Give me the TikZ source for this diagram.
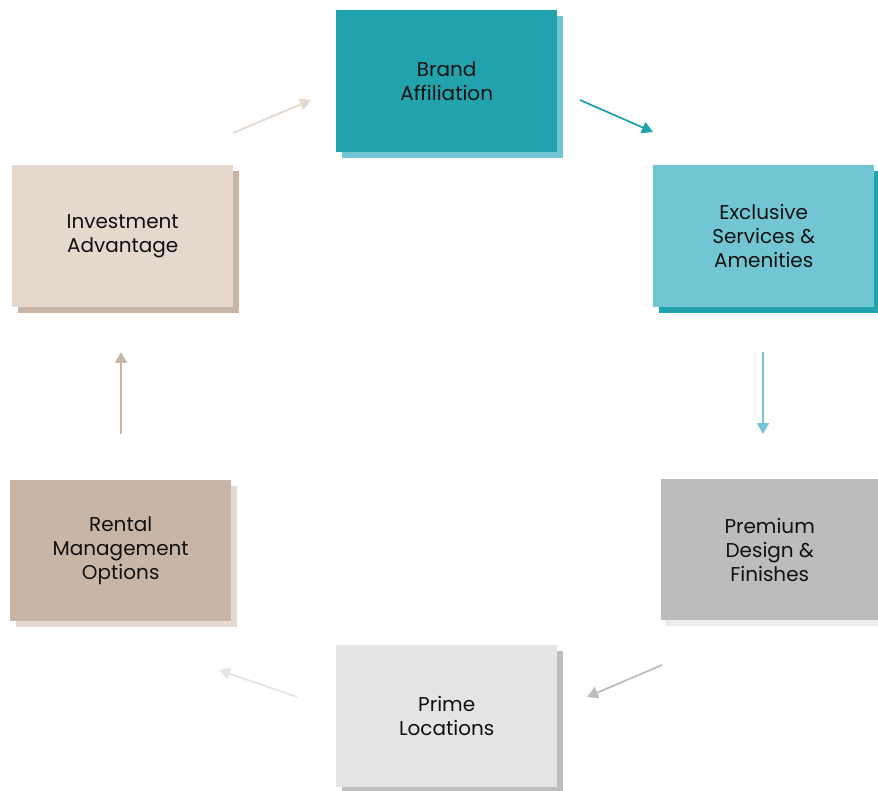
\documentclass[tikz,border=0pt]{standalone}
\usepackage{fontspec}
\setmainfont{Poppins}
\usetikzlibrary{arrows.meta}
\definecolor{tealD}{HTML}{22A2AC}
\definecolor{tealL}{HTML}{72C6D3}
\definecolor{greyM}{HTML}{BDBBBC}
\definecolor{greyL}{HTML}{E4E4E4}
\definecolor{greyS}{HTML}{BDBDBD}
\definecolor{greyX}{HTML}{EDEDED}
\definecolor{tanD}{HTML}{C8B5A6}
\definecolor{tanL}{HTML}{E5D8CD}
\definecolor{txt}{HTML}{111111}
\begin{document}
\begin{tikzpicture}[x=1pt,y=-1pt,
  card/.style={minimum width=221pt,minimum height=142pt,inner sep=0pt,
    align=center,text=txt,font=\fontsize{20}{24}\selectfont,anchor=north west},
  shadowbox/.style={minimum width=221pt,minimum height=142pt,inner sep=0pt,anchor=north west},
  flow/.style={line width=1.8pt,-{Triangle[length=11pt,width=12pt]}}]
\useasboundingbox (0,0) rectangle (878,791);
% shadows
\node[shadowbox,fill=tealL] (s1) at (342,16) {};
\node[shadowbox,fill=tealD] (s2) at (659,171) {};
\node[shadowbox,fill=greyX,minimum width=217pt,minimum height=141pt] (s3) at (665,485) {};
\node[shadowbox,fill=greyS] (s4) at (342,651) {};
\node[shadowbox,fill=tanL,minimum height=141pt] (s5) at (16,486) {};
\node[shadowbox,fill=tanD] (s6) at (18,171) {};
% cards
\node[card,fill=tealD] (brand) at (336,10) {Brand\\Affiliation};
\node[card,fill=tealL] (excl) at (653,165) {Exclusive\\Services \&\\Amenities};
\node[card,fill=greyM,minimum width=217pt,minimum height=141pt] (prem) at (661,479) {Premium\\Design \&\\Finishes};
\node[card,fill=greyL] (prime) at (336,645) {Prime\\Locations};
\node[card,fill=tanD,minimum height=141pt] (rent) at (10,480) {Rental\\Management\\Options};
\node[card,fill=tanL] (inv) at (12,165) {Investment\\Advantage};
% connector end points
\coordinate (a1s) at (580,100); \coordinate (a1e) at (653,132);
\coordinate (a2s) at (763,352); \coordinate (a2e) at (763,434);
\coordinate (a3s) at (662,665); \coordinate (a3e) at (587,697);
\coordinate (a4s) at (297,697); \coordinate (a4e) at (219,670);
\coordinate (a5s) at (121,434); \coordinate (a5e) at (121,352);
\coordinate (a6s) at (233,133); \coordinate (a6e) at (311,100);
\draw[flow,tealD] (a1s) -- (a1e);
\draw[flow,tealL] (a2s) -- (a2e);
\draw[flow,greyS] (a3s) -- (a3e);
\draw[flow,greyL] (a4s) -- (a4e);
\draw[flow,tanD] (a5s) -- (a5e);
\draw[flow,tanL] (a6s) -- (a6e);
\end{tikzpicture}
\end{document}
